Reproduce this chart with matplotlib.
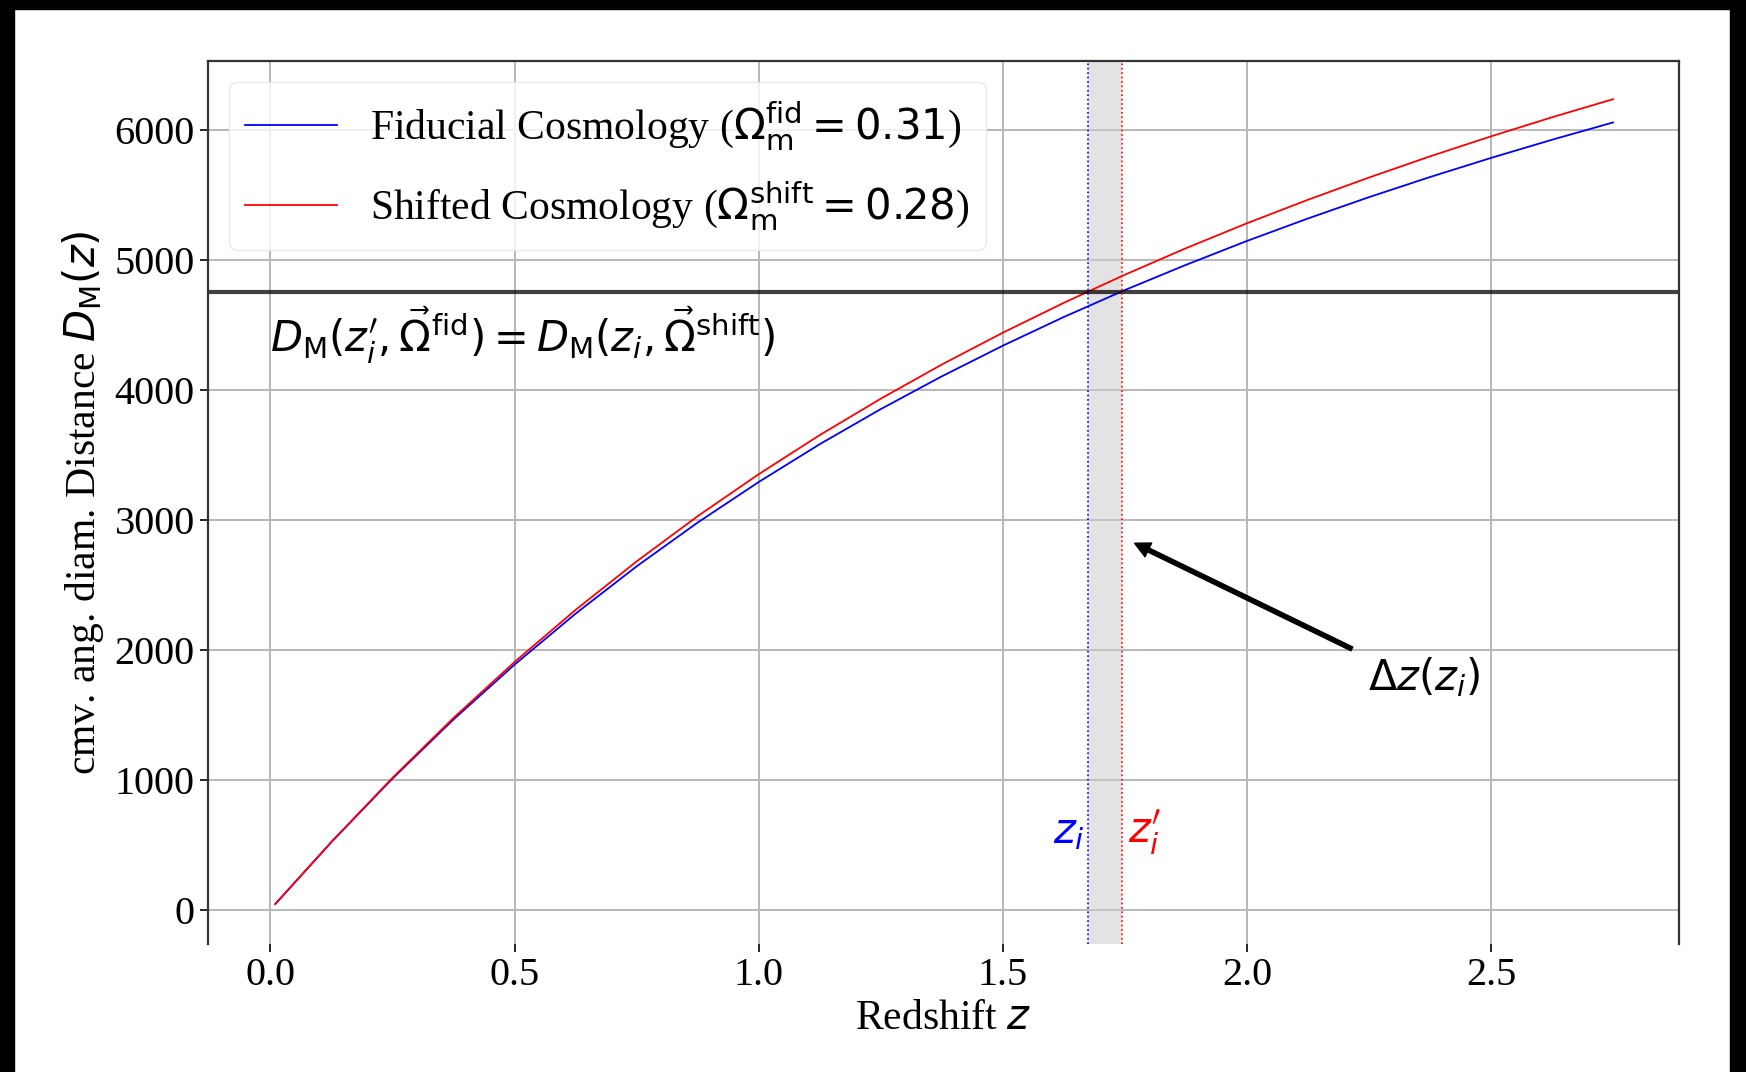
import numpy as np
import matplotlib.pyplot as plt
from matplotlib.patches import Rectangle

plt.rcParams['font.family'] = ['Liberation Serif', 'DejaVu Serif']
plt.rcParams['mathtext.fontset'] = 'dejavusans'

# redshift grid and comoving angular diameter distances [Mpc]
z = np.array([0.01, 0.125, 0.25, 0.375, 0.5, 0.625, 0.75, 0.875, 1.0, 1.125, 1.25, 1.375,
              1.5, 1.625, 1.75, 1.875, 2.0, 2.125, 2.25, 2.375, 2.5, 2.625, 2.75])
dm_fid = np.array([43, 520, 1008, 1463, 1885, 2277, 2641, 2978, 3290, 3581, 3851, 4103,
                   4339, 4560, 4767, 4961, 5145, 5318, 5482, 5637, 5784, 5924, 6057])
dm_shift = np.array([43, 521, 1014, 1475, 1905, 2306, 2679, 3027, 3350, 3651, 3931, 4194,
                     4439, 4669, 4885, 5089, 5281, 5462, 5633, 5796, 5950, 6097, 6236])

z_i = 1.674       # redshift in shifted cosmology
z_ip = 1.745      # matching redshift in fiducial cosmology
dm_match = 4755

fig = plt.figure(figsize=(17.46, 10.72), dpi=100)
ax = fig.add_axes([0.1191, 0.1194, 0.8425, 0.8237])

ax.plot(z, dm_fid, color='b', lw=1.3, label=r'Fiducial Cosmology ($\Omega_{\rm m}^{\rm fid} = 0.31$)')
ax.plot(z, dm_shift, color='r', lw=1.3, label=r'Shifted Cosmology ($\Omega_{\rm m}^{\rm shift} = 0.28$)')

ax.axhline(dm_match, color='k', lw=3, alpha=0.75)
ax.axvline(z_i, color='b', ls=':', lw=1.2)
ax.axvline(z_ip, color='r', ls=':', lw=1.2)
ax.axvspan(z_i, z_ip, color='0.8', alpha=0.55, lw=0)

ax.text(0.0, 4420, r'$D_{\rm M}(z_i^{\prime}, \vec{\Omega}^{\rm fid}) = D_{\rm M}(z_i, \vec{\Omega}^{\rm shift})$',
        fontsize=30, ha='left', va='center')
ax.text(z_i - 0.005, 593, r'$z_i$', color='b', fontsize=30, ha='right', va='center')
ax.text(z_ip + 0.012, 593, r'$z_i^{\prime}$', color='r', fontsize=30, ha='left', va='center')

ax.annotate('', xy=(1.770, 2819), xytext=(2.215, 2006),
            arrowprops=dict(facecolor='black', edgecolor='black', width=3, headwidth=11, headlength=11, shrink=0))
ax.text(2.249, 1792, r'$\Delta z(z_i)$', fontsize=30, ha='left', va='center')

ax.set_xlim(-0.128, 2.885)
ax.set_ylim(-265, 6530)
ax.set_xticks([0.0, 0.5, 1.0, 1.5, 2.0, 2.5])
ax.set_yticks([0, 1000, 2000, 3000, 4000, 5000, 6000])
ax.tick_params(labelsize=29, width=1.2, length=6)
ax.grid(True, color='#b8b8b8', lw=1.4)
ax.set_axisbelow(True)
for side in ['left', 'right', 'top']:
    ax.spines[side].set_linewidth(1.6)
    ax.spines[side].set_color('#333333')
ax.spines['bottom'].set_visible(False)

ax.set_xlabel(r'Redshift $z$', fontsize=30, labelpad=4)
ax.set_ylabel(r'cmv. ang. diam. Distance $D_{\rm M}(z)$', fontsize=30, labelpad=6)
leg = ax.legend(loc='upper left', fontsize=30, handlelength=2.2, labelspacing=0.6,
                borderaxespad=0.5, framealpha=0.8)
leg.get_frame().set_edgecolor('#e6e6e6')

# dark frame around the figure
for rect in [(0, 1 - 9 / 1072, 1, 9 / 1072), (0, 0, 14 / 1746, 1), (1730 / 1746, 0, 16 / 1746, 1)]:
    fig.patches.append(Rectangle(rect[:2], rect[2], rect[3], transform=fig.transFigure,
                                 color='black', zorder=10))

fig.savefig('out.png', dpi=100)
